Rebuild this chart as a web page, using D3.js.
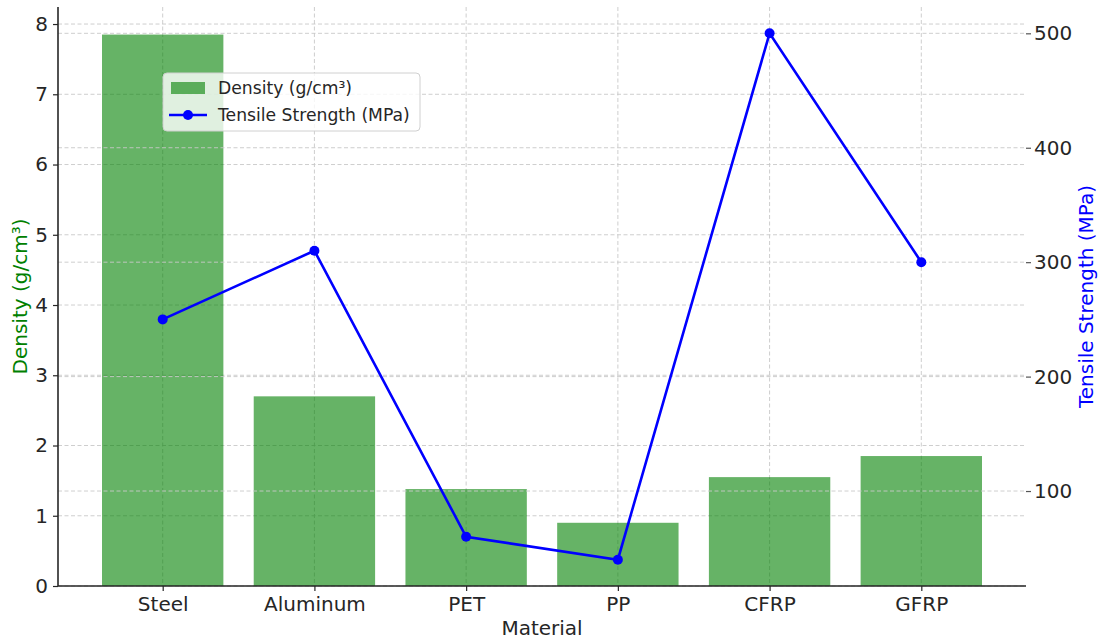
<!DOCTYPE html>
<html>
<head>
<meta charset="utf-8">
<script src="https://cdn.jsdelivr.net/npm/d3@7"></script>
<style>
  body { margin: 0; background: #fff; }
  text { font-family: "DejaVu Sans", sans-serif; }
</style>
</head>
<body>
<div id="chart"></div>
<script>
// data
var materials = ["Steel", "Aluminum", "PET", "PP", "CFRP", "GFRP"];
var density = [7.85, 2.7, 1.38, 0.9, 1.55, 1.85];
var tensile = [250, 310, 60, 40, 500, 300];
var densityTicks = [0, 1, 2, 3, 4, 5, 6, 7, 8];
var tensileTicks = [100, 200, 300, 400, 500];

var W = 1102, H = 643;
var margin = {top: 7, right: 76, bottom: 57, left: 58};
var w = W - margin.left - margin.right;
var h = H - margin.top - margin.bottom;

var svg = d3.select("#chart").append("svg")
    .attr("width", W)
    .attr("height", H);
var g = svg.append("g")
    .attr("transform", "translate(" + margin.left + "," + margin.top + ")");

/*
 * scales
 */
var x = d3.scalePoint()
    .domain(materials)
    .range([0, w])
    .padding(0.69);
var barW = x.step() * 0.8;

// matplotlib-like autoscale margins (5%)
var yL = d3.scaleLinear()
    .domain([0, d3.max(density) * 1.05])
    .range([h, 0]);
var tMin = d3.min(tensile), tMax = d3.max(tensile), tPad = (tMax - tMin) * 0.05;
var yR = d3.scaleLinear()
    .domain([tMin - tPad, tMax + tPad])
    .range([h, 0]);

var gridColor = "#c8c8c8";

/*
 * left grid
 */
g.append("g").selectAll("line")
  .data(densityTicks)
  .enter().append("line")
    .attr("x1", 0).attr("x2", w)
    .attr("y1", d => yL(d)).attr("y2", d => yL(d))
    .attr("stroke", gridColor).attr("stroke-dasharray", "4,2.5").attr("stroke-width", 0.9);
g.append("g").selectAll("line")
  .data(materials)
  .enter().append("line")
    .attr("x1", d => x(d)).attr("x2", d => x(d))
    .attr("y1", 0).attr("y2", h)
    .attr("stroke", gridColor).attr("stroke-dasharray", "4,2.5").attr("stroke-width", 0.9);

/*
 * bars
 */
g.append("g").selectAll("rect")
  .data(materials)
  .enter().append("rect")
    .attr("x", d => x(d) - barW / 2)
    .attr("width", barW)
    .attr("y", (d, i) => yL(density[i]))
    .attr("height", (d, i) => h - yL(density[i]))
    .attr("fill", "green")
    .attr("fill-opacity", 0.6);

/*
 * right grid (twin axis)
 */
g.append("g").selectAll("line")
  .data(tensileTicks)
  .enter().append("line")
    .attr("x1", 0).attr("x2", w)
    .attr("y1", d => yR(d)).attr("y2", d => yR(d))
    .attr("stroke", gridColor).attr("stroke-dasharray", "4,2.5").attr("stroke-width", 0.9);

/*
 * axes
 */
var axL = g.append("g")
    .call(d3.axisLeft(yL).tickValues(densityTicks).tickSize(5).tickPadding(5));
var axB = g.append("g")
    .attr("transform", "translate(0," + h + ")")
    .call(d3.axisBottom(x).tickSize(5).tickPadding(6));
var axR = g.append("g")
    .attr("transform", "translate(" + w + ",0)")
    .call(d3.axisRight(yR).tickValues(tensileTicks).tickSize(5).tickPadding(3));
axR.select(".domain").remove();
axL.select(".domain").attr("d", "M0,0V" + h);
axB.select(".domain").attr("d", "M0,0H" + w);

[axL, axB, axR].forEach(function(a) {
  a.selectAll(".domain").attr("stroke", "#262626").attr("stroke-width", 1.6);
  a.selectAll(".tick line").attr("stroke", "#262626").attr("stroke-width", 1.2);
  a.selectAll(".tick text").attr("fill", "#262626").style("font-size", "20px");
});
axR.selectAll(".tick line").attr("stroke", "#555");

/*
 * line
 */
var line = d3.line()
    .x((d, i) => x(materials[i]))
    .y(d => yR(d));
g.append("path")
    .datum(tensile)
    .attr("d", line)
    .attr("fill", "none")
    .attr("stroke", "blue")
    .attr("stroke-width", 2.6);
g.append("g").selectAll("circle")
  .data(tensile)
  .enter().append("circle")
    .attr("cx", (d, i) => x(materials[i]))
    .attr("cy", d => yR(d))
    .attr("r", 5)
    .attr("fill", "blue");

/*
 * labels
 */
svg.append("text")
    .attr("x", margin.left + w / 2)
    .attr("y", 635)
    .attr("text-anchor", "middle")
    .attr("fill", "#262626")
    .style("font-size", "20px")
    .text("Material");
svg.append("text")
    .attr("transform", "translate(27," + (margin.top + h / 2) + ") rotate(-90)")
    .attr("text-anchor", "middle")
    .attr("fill", "green")
    .style("font-size", "20px")
    .text("Density (g/cm³)");
svg.append("text")
    .attr("transform", "translate(1093," + (margin.top + h / 2) + ") rotate(-90)")
    .attr("text-anchor", "middle")
    .attr("fill", "blue")
    .style("font-size", "20px")
    .text("Tensile Strength (MPa)");

/*
 * legend
 */
var leg = svg.append("g").attr("transform", "translate(163,73)");
leg.append("rect")
    .attr("width", 257).attr("height", 58)
    .attr("rx", 4)
    .attr("fill", "#fff").attr("fill-opacity", 0.8)
    .attr("stroke", "#d0d0d0");
leg.append("rect")
    .attr("x", 8).attr("y", 9).attr("width", 34).attr("height", 12)
    .attr("fill", "green").attr("fill-opacity", 0.6);
leg.append("line")
    .attr("x1", 6).attr("x2", 44).attr("y1", 42).attr("y2", 42)
    .attr("stroke", "blue").attr("stroke-width", 2.6);
leg.append("circle")
    .attr("cx", 25).attr("cy", 42).attr("r", 5).attr("fill", "blue");
leg.append("text")
    .attr("x", 55).attr("y", 21)
    .attr("fill", "#262626").style("font-size", "17.2px")
    .text("Density (g/cm³)");
leg.append("text")
    .attr("x", 55).attr("y", 48)
    .attr("fill", "#262626").style("font-size", "17.2px")
    .text("Tensile Strength (MPa)");
</script>
</body>
</html>
